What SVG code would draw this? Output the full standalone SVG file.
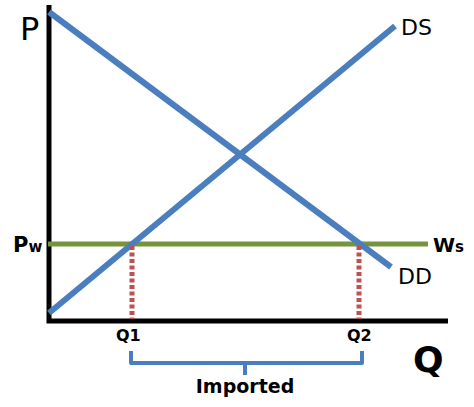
<svg xmlns="http://www.w3.org/2000/svg" width="474" height="407" viewBox="0 0 474 407">
<style>
.axis{stroke:#000;stroke-width:5;fill:none}
.curve{stroke:#4A7EBF;stroke-width:6;fill:none;stroke-linecap:butt}
.world{stroke:#77933C;stroke-width:5;fill:none}
.drop{stroke:#C0504D;stroke-width:5;stroke-dasharray:4 2.5;fill:none}
.brace{stroke:#4A7EBF;stroke-width:4;fill:none;stroke-linejoin:round}
.hand{font-family:"Comic Sans MS","DejaVu Sans",sans-serif;fill:#000}
.bold{font-family:"DejaVu Sans","Liberation Sans",sans-serif;font-weight:bold;fill:#000}
</style>
<rect width="474" height="407" fill="#fff"/>
<g id="connectors">
<path class="axis" d="M49,5 V321 H448"/>
<line class="world" x1="48" y1="244" x2="428" y2="244"/>
<line class="curve" x1="49" y1="12" x2="391" y2="267"/>
<line class="curve" x1="49" y1="313" x2="395" y2="26"/>
<line class="drop" x1="132" y1="246" x2="132" y2="319"/>
<line class="drop" x1="359" y1="246" x2="359" y2="319"/>
<path class="brace" d="M131,351 V363 H362 V351 M245,363 V375"/>
</g>
<g id="label-P"><text class="hand" x="20" y="40" font-size="32">P</text></g>
<g id="label-DS"><text class="hand" x="401" y="35" font-size="22">DS</text></g>
<g id="label-DD"><text class="hand" x="398" y="284" font-size="22">DD</text></g>
<g id="label-Pw"><text class="bold" x="13" y="252" font-size="21">P<tspan font-size="15">w</tspan></text></g>
<g id="label-Ws"><text class="bold" x="433" y="252" font-size="20">W<tspan font-size="15">s</tspan></text></g>
<g id="label-Q1"><text class="bold" x="116" y="341" font-size="16">Q1</text></g>
<g id="label-Q2"><text class="bold" x="347" y="341" font-size="16">Q2</text></g>
<g id="label-Q"><text class="bold" x="413" y="372" font-size="36">Q</text></g>
<g id="label-Imported"><text class="bold" x="245" y="393" font-size="19" text-anchor="middle">Imported</text></g>
</svg>
